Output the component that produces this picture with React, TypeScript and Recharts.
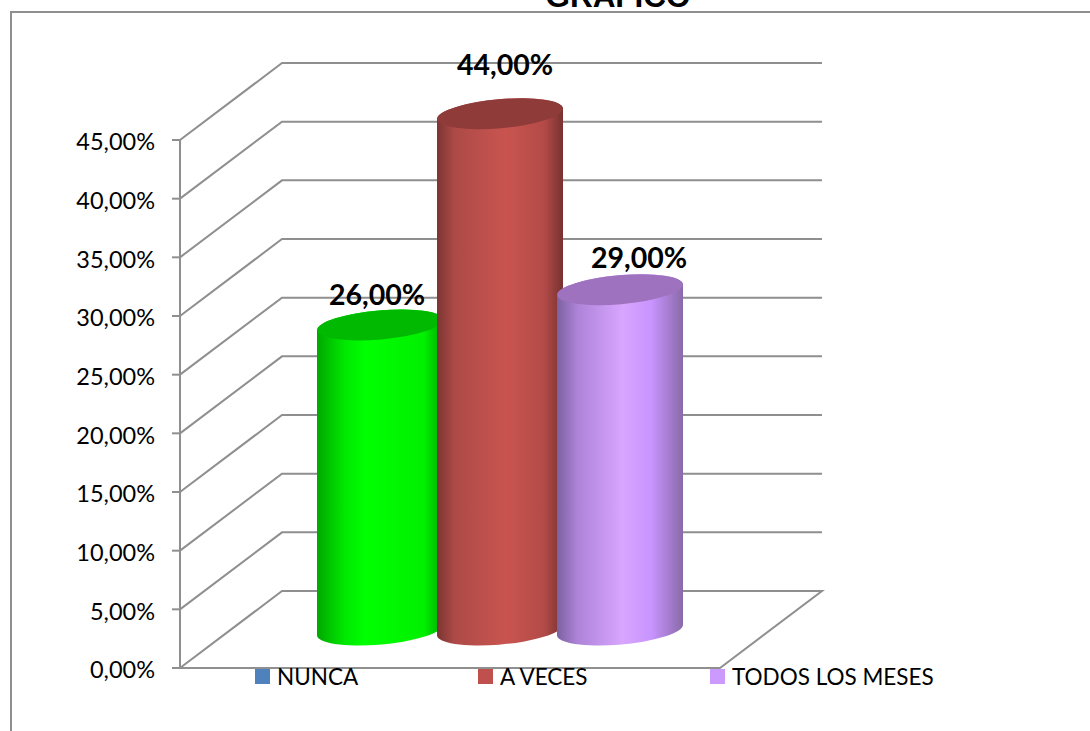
import React from 'react';
import { BarChart, Bar, XAxis, YAxis, CartesianGrid, Legend, LabelList } from 'recharts';

const categories = ['GRAFICO'];
const nunca = [26];
const aVeces = [44];
const todosLosMeses = [29];
const yTicks = [0, 5, 10, 15, 20, 25, 30, 35, 40, 45];

const chartData = categories.map((name, i) => ({
  name,
  NUNCA: nunca[i],
  'A VECES': aVeces[i],
  'TODOS LOS MESES': todosLosMeses[i],
}));

const FONT = 'Lato, sans-serif';
const GRID = '#8f8f8f';

// depth of the fake 3D box, and where the cylinders stand inside it
const BACK_X = 102;
const BACK_Y = -77;
const BAR_X = 50;
const BAR_Y = -38;

const formatPct = (v: number) => `${v.toFixed(2).replace('.', ',')}%`;

function gridLine(props: any) {
  const { x1, y1, x2, key, y, height } = props;
  const isFloor = Math.abs(y1 - (y + height)) < 1;
  const d = `M${x1} ${y1} L${x1 + BACK_X} ${y1 + BACK_Y} L${x2 + BACK_X} ${y1 + BACK_Y}` +
    (isFloor ? ` L${x2} ${y1} L${x1} ${y1}` : '');
  return <path key={key} d={d} fill="none" stroke={GRID} strokeWidth={2} />;
}

const Cylinder = (gradient: string, topColor: string) => (props: any) => {
  const { x, y, width, height } = props;
  const cx = x + width / 2 + BAR_X;
  const r = width / 2 + 3;
  const ry = 14.5;
  const top = y + BAR_Y;
  const bottom = y + height + BAR_Y;
  const d = `M${cx - r} ${top + 5} L${cx - r} ${bottom + 5} A${r} ${ry} -5 0 0 ${cx + r} ${bottom - 5} L${cx + r} ${top - 5} A${r} ${ry} -5 0 0 ${cx - r} ${top + 5} Z`;
  return (
    <g>
      <path d={d} fill={`url(#${gradient})`} />
      <ellipse cx={cx} cy={top} rx={r} ry={ry} fill={topColor} transform={`rotate(-5 ${cx} ${top})`} />
    </g>
  );
};

const ValueLabel = (dx: number, dy: number) => (props: any) => {
  const { x, y, width, value } = props;
  return (
    <text
      x={x + width / 2 + dx}
      y={y + dy}
      textAnchor="middle"
      fontFamily={FONT}
      fontWeight={700}
      fontSize={28.5}
      fill="#000"
    >
      {formatPct(value)}
    </text>
  );
};

const legendLefts = [255, 478, 710];

function ChartLegend({ payload }: any) {
  return (
    <div style={{ position: 'relative', height: 0, width: 0 }}>
      {(payload || []).map((item: any, i: number) => (
        <div key={item.value} style={{ position: 'absolute', left: legendLefts[i], top: 661, whiteSpace: 'nowrap', fontFamily: FONT, fontSize: 22.5, lineHeight: '32px', color: '#000' }}>
          <span style={{ position: 'absolute', left: 0, top: 8, width: 15, height: 15, background: item.color }} />
          <span style={{ marginLeft: 22 }}>{item.value}</span>
        </div>
      ))}
    </div>
  );
}

export default function App() {
  return (
    <div style={{ position: 'absolute', left: 0, top: 0, width: 1090, height: 731, overflow: 'hidden', background: '#fff' }}>
      <div style={{ position: 'absolute', left: 10, top: 11, width: 1090, height: 730, borderTop: `2px solid ${GRID}`, borderLeft: `2px solid ${GRID}` }} />
      <div style={{ position: 'absolute', left: 518, width: 200, top: -22, textAlign: 'center', fontFamily: '"Liberation Sans", Arial, sans-serif', fontWeight: 700, fontSize: 31.5, lineHeight: '36px', color: '#000' }}>
        GRAFICO
      </div>
      <div style={{ position: 'absolute', left: 0, top: 0 }}>
        <BarChart
          width={1090}
          height={731}
          data={chartData}
          margin={{ top: 140, right: 370, bottom: 63, left: 0 }}
          barSize={120}
          barGap={0}
        >
          <defs>
            <linearGradient id="cylGreen" x1="0" y1="0" x2="1" y2="0">
              <stop offset="0%" stopColor="#00a800" />
              <stop offset="22%" stopColor="#00e800" />
              <stop offset="38%" stopColor="#00ff00" />
              <stop offset="85%" stopColor="#00f000" />
              <stop offset="100%" stopColor="#00aa00" />
            </linearGradient>
            <linearGradient id="cylRed" x1="0" y1="0" x2="1" y2="0">
              <stop offset="0%" stopColor="#7b3533" />
              <stop offset="14%" stopColor="#ad4a47" />
              <stop offset="55%" stopColor="#c9544f" />
              <stop offset="85%" stopColor="#b34b48" />
              <stop offset="100%" stopColor="#773230" />
            </linearGradient>
            <linearGradient id="cylPurple" x1="0" y1="0" x2="1" y2="0">
              <stop offset="0%" stopColor="#7c619f" />
              <stop offset="16%" stopColor="#ad83d8" />
              <stop offset="52%" stopColor="#d8a5ff" />
              <stop offset="75%" stopColor="#c894ff" />
              <stop offset="100%" stopColor="#8a6aa8" />
            </linearGradient>
          </defs>
          <CartesianGrid horizontal={gridLine} vertical={false} />
          <XAxis dataKey="name" hide />
          <YAxis
            width={180}
            domain={[0, 45]}
            ticks={yTicks}
            interval={0}
            tickFormatter={formatPct}
            tickSize={8}
            tickMargin={17}
            tick={{ fontFamily: FONT, fontSize: 23.5, fill: '#000', dy: 2 }}
            tickLine={{ stroke: GRID, strokeWidth: 2 }}
            axisLine={{ stroke: GRID, strokeWidth: 2 }}
          />
          <Legend itemSorter={null} content={<ChartLegend />} wrapperStyle={{ left: 0, top: 0, bottom: 'auto', width: 0, height: 0 }} />
          <Bar dataKey="NUNCA" fill="#4f81bd" isAnimationActive={false} shape={Cylinder('cylGreen', '#00b900')}>
            <LabelList dataKey="NUNCA" content={ValueLabel(47, -58)} />
          </Bar>
          <Bar dataKey="A VECES" fill="#c0504d" isAnimationActive={false} shape={Cylinder('cylRed', '#8e3b3a')}>
            <LabelList dataKey="A VECES" content={ValueLabel(55, -77)} />
          </Bar>
          <Bar dataKey="TODOS LOS MESES" fill="#cc99ff" isAnimationActive={false} shape={Cylinder('cylPurple', '#9e72be')}>
            <LabelList dataKey="TODOS LOS MESES" content={ValueLabel(69, -60)} />
          </Bar>
        </BarChart>
      </div>
    </div>
  );
}
